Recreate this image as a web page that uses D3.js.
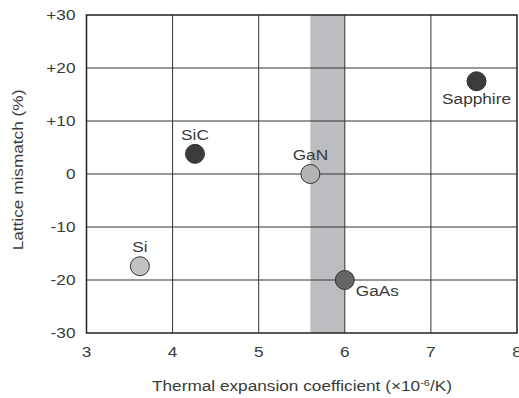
<!DOCTYPE html>
<html>
<head>
<meta charset="utf-8">
<script src="https://cdn.jsdelivr.net/npm/d3@7"></script>
<style>
  body { margin: 0; background: #fff; }
  text { font-family: "Liberation Sans", Arial, sans-serif; fill: #3a3a3a; font-size: 14px; }
</style>
</head>
<body>
<div id="chart"></div>
<script>
// data
const materials = ["Si", "SiC", "GaN", "GaAs", "Sapphire"];
const expansion = [3.62, 4.26, 5.6, 6.0, 7.53];
const mismatch = [-17.4, 3.8, 0, -20, 17.5];
const fills = ["#c2c2c4", "#3b3b3b", "#b3b4b6", "#666666", "#3b3b3b"];
const labelPos = ["above", "above", "above", "right", "below"];
const xTicks = [3, 4, 5, 6, 7, 8];
const yTicks = [-30, -20, -10, 0, 10, 20, 30];
const band = [5.6, 6.0];

const width = 519, height = 398;
const margin = { top: 15, right: 2, bottom: 65, left: 86.5 };
// the source glyphs are horizontally stretched
const SX = 1.23;

const svg = d3.select("#chart").append("svg")
  .attr("width", width)
  .attr("height", height);

const x = d3.scaleLinear().domain([3, 8]).range([margin.left, width - margin.right]);
const y = d3.scaleLinear().domain([-30, 30]).range([height - margin.bottom, margin.top]);

function place(px, py) {
  return "translate(" + px + "," + py + ") scale(" + SX + ",1)";
}

// shaded band
svg.append("rect")
  .attr("x", x(band[0]))
  .attr("y", y(30))
  .attr("width", x(band[1]) - x(band[0]))
  .attr("height", y(-30) - y(30))
  .attr("fill", "#bcbdc0");

// grid
svg.append("g").selectAll("line")
  .data(xTicks.slice(1, -1))
  .join("line")
  .attr("x1", d => x(d)).attr("x2", d => x(d))
  .attr("y1", y(30)).attr("y2", y(-30))
  .attr("stroke", "#333").attr("stroke-width", 1);
svg.append("g").selectAll("line")
  .data(yTicks.slice(1, -1))
  .join("line")
  .attr("x1", x(3)).attr("x2", x(8))
  .attr("y1", d => y(d)).attr("y2", d => y(d))
  .attr("stroke", "#333").attr("stroke-width", 1);

// frame
svg.append("rect")
  .attr("x", x(3)).attr("y", y(30))
  .attr("width", x(8) - x(3)).attr("height", y(-30) - y(30))
  .attr("fill", "none").attr("stroke", "#222").attr("stroke-width", 1.5);

// tick labels
svg.append("g").selectAll("text")
  .data(xTicks)
  .join("text")
  .attr("transform", d => place(x(d), y(-30) + 24))
  .attr("text-anchor", "middle")
  .text(d => d);
svg.append("g").selectAll("text")
  .data(yTicks)
  .join("text")
  .attr("transform", d => place(x(3) - 11, y(d) + 5))
  .attr("text-anchor", "end")
  .text(d => d > 0 ? "+" + d : d);

// axis titles
const xt = svg.append("text")
  .attr("transform", place(302, 391))
  .attr("text-anchor", "middle");
xt.append("tspan").text("Thermal expansion coefficient (\u00d710");
xt.append("tspan").attr("dy", -5).style("font-size", "9px").text("-6");
xt.append("tspan").attr("dy", 5).text("/K)");

svg.append("text")
  .attr("transform", "translate(23,170) rotate(-90) scale(" + SX + ",1)")
  .attr("text-anchor", "middle")
  .text("Lattice mismatch (%)");

// points
const pts = materials.map((m, i) => ({ name: m, x: expansion[i], y: mismatch[i], fill: fills[i], pos: labelPos[i] }));

svg.append("g").selectAll("circle")
  .data(pts)
  .join("circle")
  .attr("cx", d => x(d.x))
  .attr("cy", d => y(d.y))
  .attr("r", 9.5)
  .attr("fill", d => d.fill)
  .attr("stroke", "#333")
  .attr("stroke-width", 1);

svg.append("g").selectAll("text")
  .data(pts)
  .join("text")
  .attr("transform", d => place(
    d.pos === "right" ? x(d.x) + 11 : x(d.x),
    d.pos === "above" ? y(d.y) - 14 : d.pos === "below" ? y(d.y) + 23 : y(d.y) + 16))
  .attr("text-anchor", d => d.pos === "right" ? "start" : "middle")
  .text(d => d.name);
</script>
</body>
</html>
